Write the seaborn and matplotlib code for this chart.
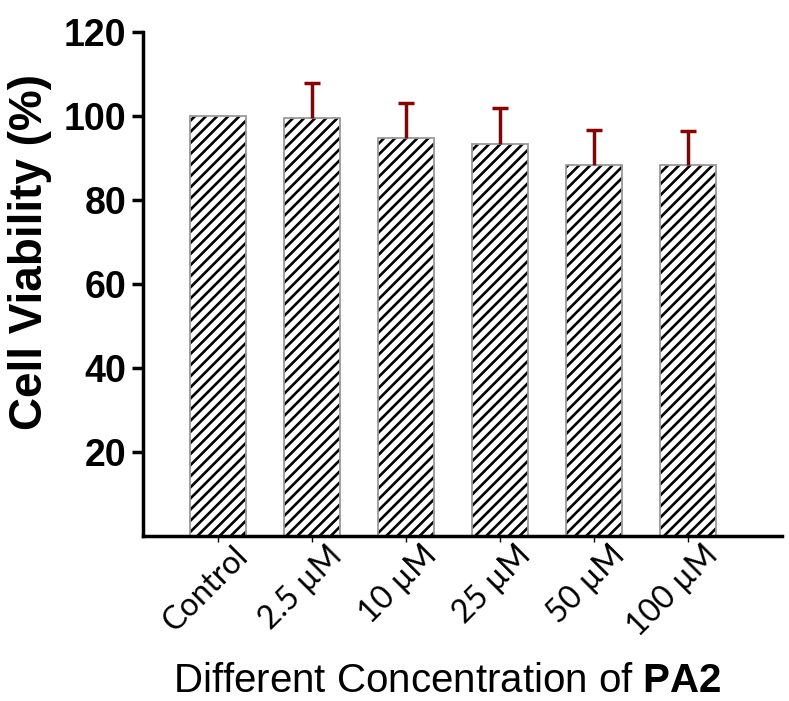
import numpy as np
import pandas as pd
import matplotlib
matplotlib.use("Agg")
import matplotlib.pyplot as plt
import matplotlib.transforms as mtransforms
import seaborn as sns

categories = ["Control", "2.5 µM", "10 µM", "25 µM", "50 µM", "100 µM"]
viability = [100.0, 99.5, 94.8, 93.3, 88.3, 88.3]
sd_upper = [0.0, 8.4, 8.3, 8.6, 8.4, 8.1]
y_ticks = [20, 40, 60, 80, 100, 120]

sns.set_theme(style="ticks")
plt.rcParams["font.family"] = ["Liberation Sans", "DejaVu Sans"]
plt.rcParams["hatch.linewidth"] = 1.9
plt.rcParams["hatch.color"] = "black"
plt.rcParams["mathtext.fontset"] = "custom"
plt.rcParams["mathtext.rm"] = "Liberation Sans"
plt.rcParams["mathtext.bf"] = "Liberation Sans:bold"
for k in ["text.color", "axes.labelcolor", "xtick.color", "ytick.color", "axes.edgecolor"]:
    plt.rcParams[k] = "black"

fig = plt.figure(figsize=(7.89, 7.01), dpi=100)
ax = fig.add_axes([0.1812, 0.2354, 0.81, 0.719])

df = pd.DataFrame({"cat": categories, "val": viability})
# hatched fill (hatch colour comes from edge colour)
sns.barplot(data=df, x="cat", y="val", ax=ax, color="white", edgecolor="black",
            linewidth=0, width=0.6, errorbar=None, saturation=1)
for p in ax.patches:
    p.set_hatch("///")
# grey outline on top
sns.barplot(data=df, x="cat", y="val", ax=ax, fill=False, edgecolor="#9a9a9a",
            linewidth=1.3, width=0.6, errorbar=None)

idx = [i for i, e in enumerate(sd_upper) if e > 0]
tops = [viability[i] + sd_upper[i] for i in idx]
ax.errorbar(idx, [viability[i] for i in idx],
            yerr=[[0] * len(idx), [sd_upper[i] for i in idx]],
            fmt="none", ecolor="#8B0000", elinewidth=2.5, capsize=0)
ax.plot(idx, tops, ls="none", marker="_", ms=11, mew=2.5, color="#8B0000")

ax.set_ylim(0, 120)
ax.set_xlim(-0.8, 6.0)
ax.set_yticks(y_ticks)
ax.set_yticklabels([str(t) for t in y_ticks], fontsize=27, fontweight="bold")
ax.tick_params(axis="y", direction="out", length=8, width=2.5, pad=4)
ax.tick_params(axis="x", direction="out", length=4, width=1, pad=2)

labels = ax.set_xticklabels(categories, rotation=45, ha="right",
                            rotation_mode="anchor", va="top",
                            fontsize=23, family=["Lato", "DejaVu Sans"])
offset = mtransforms.ScaledTranslation(15 / 100, 4 / 100, fig.dpi_scale_trans)
for lab in labels:
    lab.set_transform(lab.get_transform() + offset)

ax.set_ylabel("Cell Viability (%)", fontsize=33, fontweight="bold")
ax.yaxis.set_label_coords(-0.177, 0.5635)
ax.yaxis.label.set_va("center")
ax.set_xlabel("Different Concentration of $\\mathbf{PA2}$", fontsize=29)
ax.xaxis.set_label_coords(0.476, -0.3095)
ax.xaxis.label.set_va("baseline")

for s in ["top", "right"]:
    ax.spines[s].set_visible(False)
for s in ["left", "bottom"]:
    ax.spines[s].set_linewidth(2.5)
    ax.spines[s].set_color("black")

fig.savefig("out.png", dpi=100)
